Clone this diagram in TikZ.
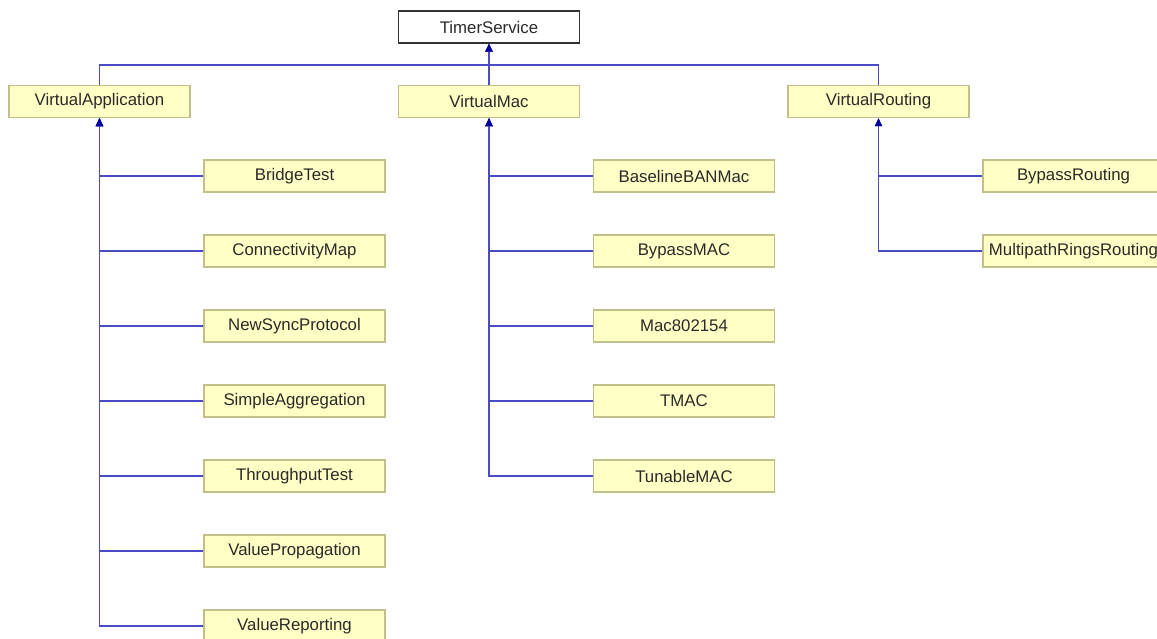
\documentclass[tikz,border=0pt]{standalone}
\usepackage{fontspec}
\setmainfont{Liberation Sans}
\usetikzlibrary{arrows.meta}
\definecolor{boxfill}{HTML}{FFFFC6}
\definecolor{boxline}{HTML}{C0C088}
\definecolor{edgecol}{HTML}{4A4AC4}
\definecolor{tipcol}{HTML}{0000A0}
\definecolor{txt}{HTML}{2A2A2A}
\begin{document}
\begin{tikzpicture}[x=1pt,y=-1pt,
  cls/.style={draw=boxline, fill=boxfill, line width=1.5pt, minimum width=181pt, minimum height=32pt, inner sep=0pt, font=\fontsize{16.8}{19}\selectfont, text=txt},
  root/.style={cls, draw=black!80, fill=white},
  edge/.style={draw=edgecol, line width=1.8pt, -{Triangle[length=8pt,width=7pt,color=tipcol]}}]
\useasboundingbox (0,0) rectangle (1157,639);
% root
\node[root] (ts) at (489,27) {TimerService};
% top level
\node[cls] (va) at (99.5,101.5) {VirtualApplication};
\node[cls] (vm) at (489,101.5) {VirtualMac};
\node[cls] (vr) at (878.5,101.5) {VirtualRouting};
% application children
\node[cls] (a1) at (294.5,176) {BridgeTest};
\node[cls] (a2) at (294.5,251) {ConnectivityMap};
\node[cls] (a3) at (294.5,326) {NewSyncProtocol};
\node[cls] (a4) at (294.5,401) {SimpleAggregation};
\node[cls] (a5) at (294.5,476) {ThroughputTest};
\node[cls] (a6) at (294.5,551) {ValuePropagation};
\node[cls] (a7) at (294.5,626) {ValueReporting};
% mac children
\node[cls] (m1) at (684,176) {BaselineBANMac};
\node[cls] (m2) at (684,251) {BypassMAC};
\node[cls] (m3) at (684,326) {Mac802154};
\node[cls] (m4) at (684,401) {TMAC};
\node[cls] (m5) at (684,476) {TunableMAC};
% routing children
\node[cls] (r1) at (1073.5,176) {BypassRouting};
\node[cls] (r2) at (1073.5,251) {MultipathRingsRouting};
% generalisations to TimerService
\draw[edge] (va.north) -- ++(0,-20) -| (ts.south);
\draw[edge] (vr.north) -- ++(0,-20) -| (ts.south);
\draw[edge] (vm.north) -- (ts.south);
% children
\foreach \c in {a1,a2,a3,a4,a5,a6,a7} \draw[edge] (\c.west) -| (va.south);
\foreach \c in {m1,m2,m3,m4,m5} \draw[edge] (\c.west) -| (vm.south);
\foreach \c in {r1,r2} \draw[edge] (\c.west) -| (vr.south);
\end{tikzpicture}
\end{document}
